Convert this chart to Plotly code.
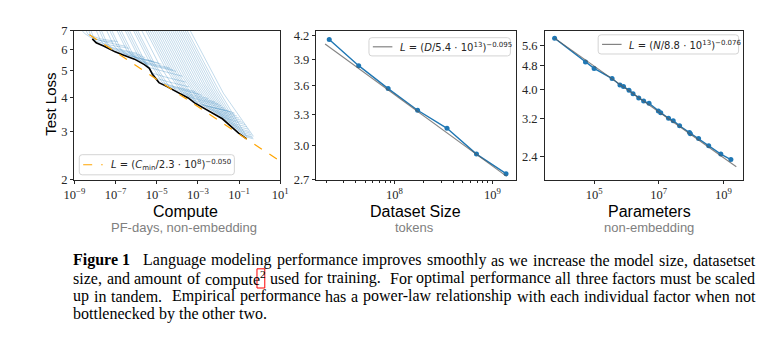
import math
import plotly.graph_objects as go

W, H = 771, 342

# ---------------- Compute panel (PF-days, non-embedding) ----------------
# lower envelope of all learning curves: log10(PF-days) and test loss
frontier_log_pfdays = [-8.13, -7.94, -7.58, -7.02, -6.63, -6.08, -5.60, -5.36, -5.21,
                       -5.05, -4.89, -4.50, -3.87, -3.47, -3.16, -2.60, -1.81, -1.02, -0.63]
frontier_loss = [6.55, 6.34, 6.17, 5.87, 5.72, 5.52, 5.27, 5.11, 4.86,
                 4.67, 4.53, 4.38, 4.14, 3.98, 3.82, 3.62, 3.34, 2.96, 2.82]

# individual training runs: log10(PF-days) and test loss along each run
run_log_pfdays = [
    [-8.75, -8.50, -8.20, -7.70, -7.10],
    [-8.50, -8.34, -7.74, -6.90],
    [-8.35, -8.22, -8.11, -7.50, -6.50],
    [-8.25, -8.09, -7.95, -7.35, -6.35],
    [-8.00, -7.75, -7.55, -6.95, -5.95],
    [-7.85, -7.56, -7.32, -6.72, -5.72],
    [-7.75, -7.43, -7.16, -6.56, -5.56],
    [-7.50, -7.10, -6.77, -6.17, -5.17],
    [-7.35, -6.90, -6.53, -5.93, -4.93],
    [-7.25, -6.77, -6.37, -5.77, -4.77],
    [-7.00, -6.44, -5.98, -5.38, -4.38],
    [-6.90, -6.30, -5.82, -5.22, -4.22],
    [-6.80, -6.17, -5.66, -5.06, -4.06],
    [-6.60, -5.91, -5.35, -4.75, -3.75],
    [-6.50, -5.83, -5.19, -4.59, -3.59],
    [-6.40, -5.65, -5.03, -4.43, -3.43],
    [-6.20, -5.39, -4.72, -4.12, -3.12],
    [-6.10, -5.25, -4.56, -3.96, -2.96],
    [-6.00, -5.12, -4.40, -3.80, -2.80],
    [-5.80, -4.86, -4.09, -3.49, -2.49],
    [-5.60, -4.59, -3.77, -3.17, -2.17],
    [-5.50, -4.46, -3.61, -3.01, -2.01],
    [-5.40, -4.33, -3.46, -2.86, -1.86],
    [-5.30, -4.20, -3.30, -2.70, -1.70],
    [-5.20, -4.07, -3.14, -2.54, -1.54],
    [-5.10, -3.94, -2.99, -2.39, -1.39],
    [-5.00, -3.81, -2.83, -2.23, -1.23],
    [-4.90, -3.67, -2.67, -2.07, -1.20],
    [-4.80, -3.54, -2.51, -1.91, -1.10],
    [-4.70, -3.41, -2.36, -1.76, -1.00],
    [-4.60, -3.28, -2.20, -1.60, -0.90],
    [-4.50, -3.15, -2.04, -1.44, -0.80],
    [-4.40, -3.01, -1.88, -1.28, -0.70],
    [-4.30, -2.88, -1.73, -1.14, -0.62],
    [-4.20, -2.75, -1.57, -1.00, -0.55],
    [-4.10, -2.62, -1.41, -0.88, -0.50],
    [-4.00, -2.49, -1.25, -0.75, -0.45],
    [-3.90, -2.36, -1.10, -0.68, -0.40],
    [-3.80, -2.23, -0.94, -0.60, -0.35],
    [-3.70, -2.10, -0.78, -0.33],
    [-3.60, -1.96, -0.62, -0.30],
    [-3.45, -1.76, -0.30],
]
run_loss = [
    [7.20, 6.85, 6.62, 6.45, 6.38],
    [7.20, 6.80, 6.55, 6.40],
    [7.20, 6.77, 6.58, 6.38, 6.15],
    [7.20, 6.69, 6.42, 6.23, 6.05],
    [7.20, 6.52, 6.22, 6.03, 5.80],
    [7.20, 6.44, 6.10, 5.92, 5.70],
    [7.20, 6.36, 6.00, 5.82, 5.60],
    [7.20, 6.21, 5.83, 5.66, 5.42],
    [7.20, 6.12, 5.75, 5.58, 5.35],
    [7.20, 6.05, 5.69, 5.52, 5.29],
    [7.20, 5.91, 5.52, 5.35, 5.13],
    [7.20, 5.83, 5.43, 5.27, 5.05],
    [7.20, 5.78, 5.35, 5.19, 4.98],
    [7.20, 5.67, 5.14, 4.99, 4.78],
    [7.20, 5.70, 4.90, 4.75, 4.55],
    [7.20, 5.56, 4.70, 4.56, 4.37],
    [7.20, 5.46, 4.52, 4.38, 4.20],
    [7.20, 5.40, 4.45, 4.32, 4.12],
    [7.20, 5.34, 4.38, 4.25, 4.07],
    [7.20, 5.24, 4.26, 4.13, 3.96],
    [7.20, 5.13, 4.14, 4.02, 3.85],
    [7.20, 5.09, 4.07, 3.95, 3.79],
    [7.20, 5.04, 4.01, 3.89, 3.73],
    [7.20, 4.98, 3.92, 3.81, 3.65],
    [7.20, 4.93, 3.85, 3.73, 3.58],
    [7.20, 4.88, 3.77, 3.69, 3.54],
    [7.20, 4.84, 3.77, 3.66, 3.51],
    [7.20, 4.79, 3.69, 3.58, 3.47],
    [7.20, 4.74, 3.63, 3.52, 3.42],
    [7.20, 4.70, 3.58, 3.46, 3.36],
    [7.20, 4.65, 3.52, 3.40, 3.30],
    [7.20, 4.60, 3.46, 3.33, 3.24],
    [7.20, 4.55, 3.40, 3.27, 3.18],
    [7.20, 4.51, 3.33, 3.19, 3.12],
    [7.20, 4.47, 3.26, 3.12, 3.06],
    [7.20, 4.42, 3.19, 3.06, 3.00],
    [7.20, 4.38, 3.11, 3.00, 2.96],
    [7.20, 4.33, 3.04, 2.95, 2.92],
    [7.20, 4.29, 2.97, 2.90, 2.88],
    [7.20, 4.25, 2.91, 2.85],
    [7.20, 4.21, 2.86, 2.82],
    [7.20, 4.14, 2.88],
]

compute_fit_span = [1e-9, 1e1]
compute_fit_scale, compute_fit_exp = 2.3e8, 0.050

# ---------------- Dataset size panel (tokens) ----------------
tokens = [2.15e7, 4.3e7, 8.6e7, 1.72e8, 3.44e8, 6.88e8, 1.38e9]
dataset_loss = [4.15, 3.83, 3.57, 3.34, 3.16, 2.92, 2.75]
dataset_fit_span = [1.95e7, 1.40e9]
dataset_fit_scale, dataset_fit_exp = 5.4e13, 0.095

# ---------------- Parameters panel (non-embedding) ----------------
params = [6.0e3, 5.4e4, 1.0e5, 3.6e5, 6.3e5, 8.1e5, 1.2e6, 1.6e6, 2.4e6, 3.4e6, 5.0e6,
          9.7e6, 1.15e7, 2.0e7, 2.8e7, 4.4e7, 8.9e7, 9.5e7, 1.7e8, 3.5e8, 8.3e8, 1.7e9]
param_loss = [5.92, 4.94, 4.70, 4.35, 4.14, 4.09, 3.98, 3.87, 3.75, 3.66, 3.60,
              3.39, 3.35, 3.21, 3.15, 3.03, 2.88, 2.85, 2.75, 2.60, 2.44, 2.34]
param_fit_span = [6.0e3, 2.5e9]
param_fit_scale, param_fit_exp = 8.8e13, 0.076

# ---------------- tick labels ----------------
compute_ticks = [1e-9, 1e-7, 1e-5, 1e-3, 1e-1, 1e1]
compute_ticktext = ["10<sup>\u22129</sup>", "10<sup>\u22127</sup>", "10<sup>\u22125</sup>",
                    "10<sup>\u22123</sup>", "10<sup>\u22121</sup>", "10<sup>1</sup>"]
compute_loss_ticks = [2, 3, 4, 5, 6, 7]
dataset_ticks = [1e8, 1e9]
dataset_ticktext = ["10<sup>8</sup>", "10<sup>9</sup>"]
dataset_minor = [2e7, 3e7, 4e7, 5e7, 6e7, 7e7, 8e7, 9e7, 2e8, 3e8, 4e8, 5e8, 6e8, 7e8, 8e8, 9e8]
dataset_loss_ticks = [2.7, 3.0, 3.3, 3.6, 3.9, 4.2]
param_ticks = [1e5, 1e7, 1e9]
param_ticktext = ["10<sup>5</sup>", "10<sup>7</sup>", "10<sup>9</sup>"]
param_loss_ticks = [2.4, 3.2, 4.0, 4.8, 5.6]

# legend labels
compute_fit_label = ("<i>L</i> = (<i>C</i><sub>min</sub>/2.3 \u00b7 10<sup>8</sup>)"
                     "<sup>\u22120.050</sup>")
dataset_fit_label = "<i>L</i> = (<i>D</i>/5.4 \u00b7 10<sup>13</sup>)<sup>\u22120.095</sup>"
param_fit_label = "<i>L</i> = (<i>N</i>/8.8 \u00b7 10<sup>13</sup>)<sup>\u22120.076</sup>"

# caption lines (last one is not justified)
caption_lines = [
    ["Figure 1", "Language", "modeling", "performance", "improves", "smoothly", "as", "we",
     "increase", "the", "model", "size,", "datasetset"],
    ["size,", "and", "amount", "of", "compute<sup>2</sup>", "used", "for", "training.", "For",
     "optimal", "performance", "all", "three", "factors", "must", "be", "scaled"],
    ["up", "in", "tandem.", "Empirical", "performance", "has", "a", "power-law", "relationship",
     "with", "each", "individual", "factor", "when", "not"],
    ["bottlenecked", "by", "the", "other", "two."],
]

BLUE = "#1f77b4"
RUN_BLUE = "rgba(31,119,180,0.27)"
FIT_GRAY = "rgba(90,90,90,0.75)"
ORANGE = "#ffa500"
TICK_FONT = dict(family="Liberation Serif", size=12.5, color="#262626")
LEG_FONT = dict(family="DejaVu Sans", size=10, color="#262626")


def power_law(x, scale, exp):
    return (x / scale) ** (-exp)


fig = go.Figure()

for lc, ll in zip(run_log_pfdays, run_loss):
    fig.add_trace(go.Scatter(x=[10 ** v for v in lc], y=ll, mode="lines",
                             line=dict(color=RUN_BLUE, width=1), showlegend=False,
                             hoverinfo="skip", xaxis="x", yaxis="y"))
fig.add_trace(go.Scatter(x=[10 ** v for v in frontier_log_pfdays], y=frontier_loss,
                         mode="lines", line=dict(color="black", width=1.6),
                         showlegend=False, xaxis="x", yaxis="y"))
fig.add_trace(go.Scatter(
    x=compute_fit_span,
    y=[power_law(c, compute_fit_scale, compute_fit_exp) for c in compute_fit_span],
    mode="lines", line=dict(color=ORANGE, width=1.2, dash="dash"),
    showlegend=False, xaxis="x", yaxis="y"))

fig.add_trace(go.Scatter(x=tokens, y=dataset_loss, mode="lines+markers",
                         line=dict(color=BLUE, width=1.4), marker=dict(size=5, color=BLUE),
                         showlegend=False, xaxis="x2", yaxis="y2"))
fig.add_trace(go.Scatter(
    x=dataset_fit_span,
    y=[power_law(d, dataset_fit_scale, dataset_fit_exp) for d in dataset_fit_span],
    mode="lines", line=dict(color=FIT_GRAY, width=1.1),
    showlegend=False, xaxis="x2", yaxis="y2"))

fig.add_trace(go.Scatter(x=params, y=param_loss, mode="lines+markers",
                         line=dict(color=BLUE, width=1.4), marker=dict(size=5, color=BLUE),
                         showlegend=False, xaxis="x3", yaxis="y3"))
fig.add_trace(go.Scatter(
    x=param_fit_span,
    y=[power_law(n, param_fit_scale, param_fit_exp) for n in param_fit_span],
    mode="lines", line=dict(color=FIT_GRAY, width=1.1),
    showlegend=False, xaxis="x3", yaxis="y3"))


def fx(p):
    return p / W


def fy(p):
    return 1 - p / H


ydom = [fy(180), fy(25)]
axis_common = dict(showline=True, linecolor="#262626", linewidth=1, mirror=True,
                   ticks="outside", ticklen=3.5, tickwidth=0.8, tickcolor="#262626",
                   showgrid=False, zeroline=False, tickfont=TICK_FONT, type="log")

fig.update_layout(
    width=W, height=H, margin=dict(l=0, r=0, t=0, b=0),
    paper_bgcolor="white", plot_bgcolor="white", showlegend=False,
    xaxis=dict(axis_common, domain=[fx(65), fx(276)], range=[-9, 1], anchor="y",
               tickmode="array", tickvals=compute_ticks, ticktext=compute_ticktext),
    yaxis=dict(axis_common, domain=ydom, range=[math.log10(2), math.log10(7)], anchor="x",
               tickmode="array", tickvals=compute_loss_ticks,
               ticktext=[str(v) for v in compute_loss_ticks]),
    xaxis2=dict(axis_common, domain=[fx(313), fx(518)], range=[7.2, 9.244], anchor="y2",
                tickmode="array", tickvals=dataset_ticks, ticktext=dataset_ticktext,
                minor=dict(tickvals=dataset_minor, ticks="outside", ticklen=2,
                           tickcolor="#262626", showgrid=False)),
    yaxis2=dict(axis_common, domain=ydom, range=[math.log10(2.7), math.log10(4.26)],
                anchor="x2", tickmode="array", tickvals=dataset_loss_ticks,
                ticktext=["%.1f" % v for v in dataset_loss_ticks]),
    xaxis3=dict(axis_common, domain=[fx(547), fx(751)], range=[3.466, 9.62], anchor="y3",
                tickmode="array", tickvals=param_ticks, ticktext=param_ticktext),
    yaxis3=dict(axis_common, domain=ydom, range=[0.3025, 0.7965], anchor="x3",
                tickmode="array", tickvals=param_loss_ticks,
                ticktext=["%.1f" % v for v in param_loss_ticks]),
)


def rounded_box_path(x0, y0, x1, y1, r):
    X, Y = fx, fy
    return ("M {a},{b} L {c},{b} Q {d},{b} {d},{e} L {d},{f} Q {d},{g} {c},{g} "
            "L {a},{g} Q {h},{g} {h},{f} L {h},{e} Q {h},{b} {a},{b} Z").format(
        a=X(x0 + r), b=Y(y0), c=X(x1 - r), d=X(x1), e=Y(y0 + r), f=Y(y1 - r),
        g=Y(y1), h=X(x0))


# ---- legend boxes (box, line sample, label) in pixel positions ----
def legend_box(x0, y0, x1, y1, sample_color, dash, label):
    fig.add_shape(type="path", path=rounded_box_path(x0, y0, x1, y1, 3),
                  xref="paper", yref="paper", layer="above",
                  line=dict(color="#d4d4d4", width=1), fillcolor="rgba(255,255,255,0.85)")
    ym = (y0 + y1) / 2
    fig.add_shape(type="line", xref="paper", yref="paper", layer="above",
                  x0=fx(x0 + 4), x1=fx(x0 + 24), y0=fy(ym), y1=fy(ym),
                  line=dict(color=sample_color, width=1.2, dash=dash))
    fig.add_annotation(text=label, x=fx(x0 + 30), y=fy(ym + 0.5), xref="paper", yref="paper",
                       showarrow=False, xanchor="left", yanchor="middle", font=LEG_FONT)


legend_box(70, 154, 229, 175, ORANGE, "dash", compute_fit_label)
legend_box(367, 32, 512, 51, FIT_GRAY, "solid", dataset_fit_label)
legend_box(602, 29, 746, 49, FIT_GRAY, "solid", param_fit_label)

SANS = "Liberation Sans"
labels = [
    ("Compute", 178.5, 213, 16, "black"),
    ("PF-days, non-embedding", 177.5, 230, 13, "#808080"),
    ("Dataset Size", 414.5, 213, 16, "black"),
    ("tokens", 414, 230, 13, "#808080"),
    ("Parameters", 654.5, 213, 16, "black"),
    ("non-embedding", 654.5, 230, 13, "#808080"),
]
for text, px, py, size, color in labels:
    fig.add_annotation(text=text, x=fx(px), y=fy(py), xref="paper", yref="paper",
                       showarrow=False, xanchor="center", yanchor="middle",
                       font=dict(family=SANS, size=size, color=color))
fig.add_annotation(text="Test Loss", x=fx(41), y=fy(101), xref="paper", yref="paper",
                   showarrow=False, textangle=-90, xanchor="center", yanchor="middle",
                   font=dict(family=SANS, size=15, color="black"))

# ---- caption: Times-metric word widths so each line can be justified ----
TIMES = {" ": 250, ",": 250, ".": 250, "-": 333, "0": 500, "1": 500, "2": 500,
         "E": 611, "F": 556, "L": 611,
         "a": 444, "b": 500, "c": 444, "d": 500, "e": 444, "f": 333, "g": 500, "h": 500,
         "i": 278, "k": 500, "l": 278, "m": 778, "n": 500, "o": 500, "p": 500, "r": 333,
         "s": 389, "t": 278, "u": 500, "v": 500, "w": 722, "x": 500, "y": 500, "z": 444}
TIMES_BOLD = {" ": 250, "F": 611, "i": 278, "g": 500, "u": 556, "r": 444, "e": 444, "1": 500}
CAP_SIZE = 16
CAP_LEFT, CAP_RIGHT = 63, 762
CAP_ROWS = [264, 283, 301.5, 320]
WIDTH_PAD = 1.025  # allowance for rendered glyph extents


def word_width(word, bold=False):
    if "<sup>" in word:
        base, sup = word.replace("</sup>", "").split("<sup>")
        return word_width(base) + 0.7 * word_width(sup)
    table = TIMES_BOLD if bold else TIMES
    return sum(table.get(ch, 500) for ch in word) * CAP_SIZE / 1000.0


footnote_x = None
for li, (words, row) in enumerate(zip(caption_lines, CAP_ROWS)):
    bold_first = li == 0
    widths = [word_width(w, bold_first and i == 0) * WIDTH_PAD for i, w in enumerate(words)]
    # relative size of each inter-word gap (wider after the label and sentence ends)
    weights = []
    for i in range(len(words) - 1):
        if bold_first and i == 0:
            weights.append(2.6)
        elif words[i].endswith("."):
            weights.append(2.0)
        else:
            weights.append(1.0)
    if li < len(caption_lines) - 1:
        unit = (CAP_RIGHT - CAP_LEFT - sum(widths)) / sum(weights)
    else:
        unit = 0.25 * CAP_SIZE
    x = CAP_LEFT
    for i, w in enumerate(words):
        text = "<b>%s</b>" % w if (bold_first and i == 0) else w
        fig.add_annotation(text=text, x=fx(x), y=fy(row), xref="paper", yref="paper",
                           showarrow=False, xanchor="left", yanchor="middle",
                           borderpad=0, font=dict(family="Liberation Serif", size=CAP_SIZE,
                                                  color="black"))
        if "<sup>" in w:
            footnote_x = x + word_width(w.split("<sup>")[0])
        x += widths[i] + (weights[i] * unit if i < len(weights) else 0)

# red link box around the footnote marker
fig.add_shape(type="rect", xref="paper", yref="paper",
              x0=fx(footnote_x - 0.5), x1=fx(footnote_x + 7.5),
              y0=fy(CAP_ROWS[1] + 10), y1=fy(CAP_ROWS[1] - 10),
              line=dict(color="red", width=1), fillcolor="rgba(0,0,0,0)")

fig.write_html("out.html")
